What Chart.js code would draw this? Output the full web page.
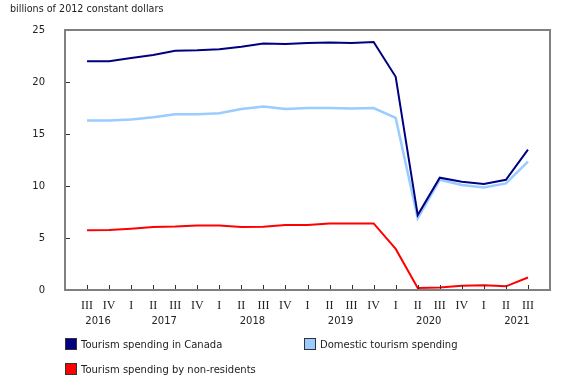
<!DOCTYPE html>
<html>
<head>
<meta charset="utf-8">
<script src="https://cdn.jsdelivr.net/npm/chart.js@4"></script>
<style>
  body { margin: 0; background: #fff; }
  #wrap { position: relative; width: 580px; height: 385px; }
  #title { position: absolute; left: 10px; top: 3px; font: 9.6px "DejaVu Sans", sans-serif; color: #222; }
  .leg { position: absolute; font: 10px "DejaVu Sans", sans-serif; color: #222; white-space: nowrap; }
  .leg span { display: inline-block; width: 10px; height: 10px; border: 1px solid #333; vertical-align: -2px; margin-right: 4px; }
</style>
</head>
<body>
<div id="wrap">
  <canvas id="c" width="580" height="385"></canvas>
  <div id="title">billions of 2012 constant dollars</div>
  <div id="legend"></div>
</div>
<script>
// quarters from 2016 Q3 to 2021 Q3
const quarters = ['III','IV','I','II','III','IV','I','II','III','IV','I','II','III','IV','I','II','III','IV','I','II','III'];
const years = ['2016','2017','2018','2019','2020','2021'];
const yearPos = [0.5, 3.5, 7.5, 11.5, 15.5, 19.5];

const seriesNames = ['Tourism spending in Canada', 'Domestic tourism spending', 'Tourism spending by non-residents'];
const seriesColors = ['#000080', '#99ccff', '#ff0000'];

const canada   = [22.0, 22.0, 22.3, 22.6, 23.0, 23.05, 23.15, 23.4, 23.7, 23.65, 23.75, 23.8, 23.75, 23.85, 20.5, 7.2, 10.8, 10.4, 10.2, 10.6, 13.5];
const domestic = [16.3, 16.3, 16.4, 16.6, 16.9, 16.9, 17.0, 17.4, 17.65, 17.4, 17.5, 17.5, 17.45, 17.5, 16.55, 6.9, 10.6, 10.1, 9.85, 10.25, 12.35];
const nonres   = [5.74, 5.77, 5.9, 6.06, 6.1, 6.2, 6.2, 6.05, 6.08, 6.25, 6.25, 6.4, 6.4, 6.4, 3.95, 0.2, 0.25, 0.4, 0.45, 0.35, 1.2];

const toPoints = arr => arr.map((v, i) => ({ x: i, y: v }));

// frame, inward ticks and year labels
const decor = {
  id: 'decor',
  afterDraw(chart) {
    const ctx = chart.ctx, a = chart.chartArea;
    const xs = chart.scales.x, ys = chart.scales.y;
    ctx.save();
    ctx.strokeStyle = '#333';
    ctx.lineWidth = 1;
    ys.ticks.forEach(t => {
      const y = Math.round(ys.getPixelForValue(t.value)) + 0.5;
      ctx.beginPath(); ctx.moveTo(a.left, y); ctx.lineTo(a.left + 5, y); ctx.stroke();
    });
    quarters.forEach((q, i) => {
      const x = Math.round(xs.getPixelForValue(i)) + 0.5;
      ctx.beginPath(); ctx.moveTo(x, a.bottom); ctx.lineTo(x, a.bottom - 5); ctx.stroke();
    });
    ctx.strokeStyle = '#808080';
    ctx.lineWidth = 2;
    ctx.strokeRect(a.left, a.top, a.right - a.left, a.bottom - a.top);
    ctx.fillStyle = '#222';
    ctx.font = '10px "DejaVu Sans"';
    ctx.textAlign = 'center';
    ctx.textBaseline = 'middle';
    years.forEach((y, i) => ctx.fillText(y, xs.getPixelForValue(yearPos[i]), a.bottom + 31));
    ctx.restore();
  }
};

new Chart(document.getElementById('c'), {
  type: 'line',
  data: {
    datasets: [
      { label: seriesNames[0], data: toPoints(canada), borderColor: seriesColors[0], backgroundColor: seriesColors[0], borderWidth: 2, pointRadius: 0, tension: 0 },
      { label: seriesNames[1], data: toPoints(domestic), borderColor: seriesColors[1], backgroundColor: seriesColors[1], borderWidth: 2.5, pointRadius: 0, tension: 0 },
      { label: seriesNames[2], data: toPoints(nonres), borderColor: seriesColors[2], backgroundColor: seriesColors[2], borderWidth: 2, pointRadius: 0, tension: 0 }
    ]
  },
  options: {
    responsive: false,
    animation: false,
    events: [],
    layout: { padding: { left: 0, top: 30, right: 30, bottom: 0 } },
    plugins: { legend: { display: false }, tooltip: { enabled: false } },
    scales: {
      x: {
        type: 'linear', min: -1, max: 21,
        grid: { display: false },
        border: { display: false },
        afterFit: s => { s.height = 95; },
        afterBuildTicks: s => { s.ticks = quarters.map((q, i) => ({ value: i })); },
        ticks: {
          autoSkip: false, maxRotation: 0, padding: 1, color: '#222',
          font: { family: 'Liberation Serif', size: 12 },
          callback: v => quarters[v] ?? ''
        }
      },
      y: {
        min: 0, max: 25,
        grid: { display: false },
        border: { display: false },
        afterFit: s => { s.width = 65; },
        ticks: { stepSize: 5, padding: 12, color: '#222', font: { family: 'DejaVu Sans', size: 10 } }
      }
    }
  },
  plugins: [decor]
});

// legend in two columns under the plot
const pos = [[65, 338], [304, 338], [65, 363]];
document.getElementById('legend').innerHTML = seriesNames.map((n, i) =>
  `<div class="leg" style="left:${pos[i][0]}px;top:${pos[i][1]}px"><span style="background:${seriesColors[i]}"></span>${n}</div>`
).join('');
</script>
</body>
</html>
